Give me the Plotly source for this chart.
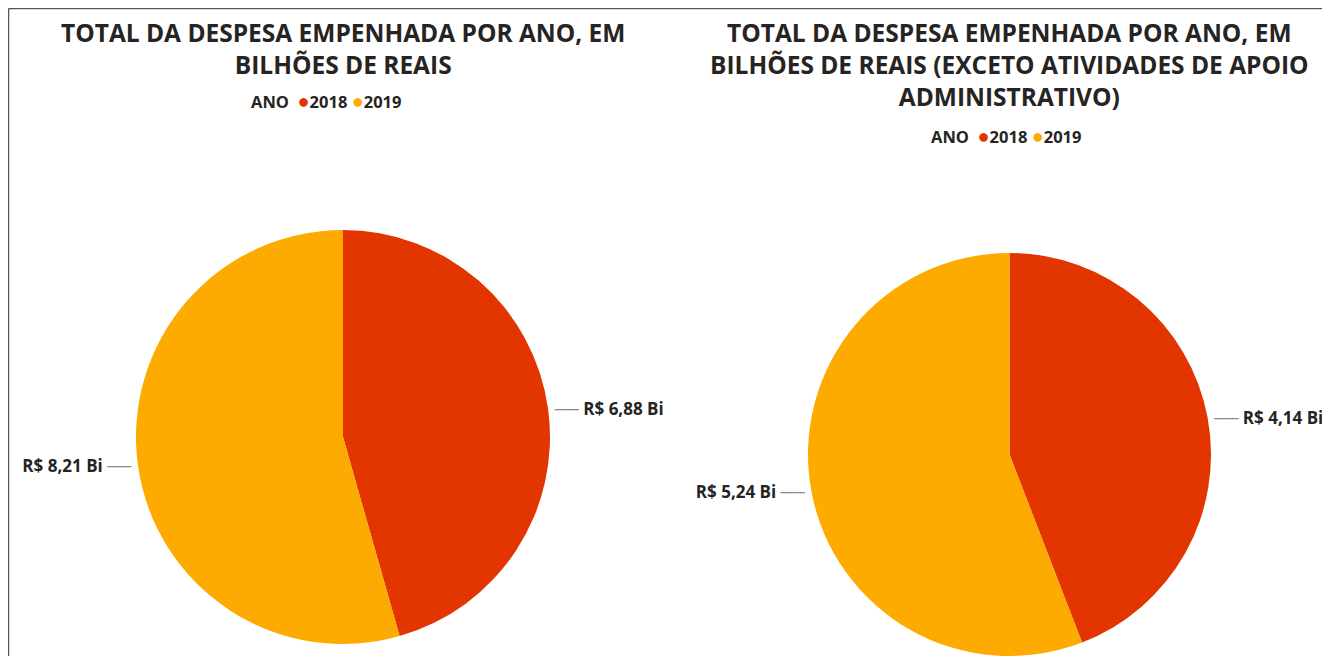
import plotly.graph_objects as go

# ---- data ----
anos = ["2018", "2019"]
total_bi = [6.88, 8.21]
exceto_apoio_bi = [4.14, 5.24]
cores = ["#E23500", "#FDAB00"]

titulo_esq = "TOTAL DA DESPESA EMPENHADA POR ANO, EM<br>BILHÕES DE REAIS"
titulo_dir = ("TOTAL DA DESPESA EMPENHADA POR ANO, EM<br>BILHÕES DE REAIS (EXCETO ATIVIDADES DE APOIO"
              "<br>ADMINISTRATIVO)")
legenda_titulo = "ANO"

W, H = 1330, 656
OFF = 8  # page body margin
FONT = "Open Sans"
TXT = "#252423"
LEADER = "<span style='color:#8a8a8a'>──</span>"

def px(x):
    return (x - OFF) / W

def py(y):
    return 1 - (y - OFF) / H

fig = go.Figure()

def add_pie(values, dom_x, dom_y):
    fig.add_trace(go.Pie(
        labels=anos,
        values=values,
        marker=dict(colors=cores, line=dict(width=0)),
        sort=False,
        direction="clockwise",
        rotation=0,
        textposition="outside",
        texttemplate=[LEADER + " R$ %{value:.2f} Bi", "R$ %{value:.2f} Bi " + LEADER],
        textfont=dict(family=FONT, size=17, color=TXT, weight="bold"),
        domain=dict(x=dom_x, y=dom_y),
        showlegend=False,
        hoverinfo="label+value",
    ))

# left pie: center (343,437) r 207
add_pie(total_bi, [px(136), px(550)], [py(644), py(230)])
# right pie: center (1010,454) r 201
add_pie(exceto_apoio_bi, [px(808), px(1211)], [max(0, py(656)), py(253)])

def legend_text():
    items = [f"<span style='color:{c};font-size:20px'>●</span><b>{a}</b>" for a, c in zip(anos, cores)]
    return f"<b>{legenda_titulo}</b>  " + " ".join(items)

annots = [
    dict(text=f"<b>{titulo_esq}</b>", x=px(343), y=py(14), xanchor="center", yanchor="top",
         font=dict(family=FONT, size=24.5, color=TXT)),
    dict(text=f"<b>{titulo_dir}</b>", x=px(1009), y=py(14), xanchor="center", yanchor="top",
         font=dict(family=FONT, size=24.5, color=TXT)),
    dict(text=legend_text(), x=px(326), y=py(101), xanchor="center", yanchor="middle",
         font=dict(family=FONT, size=16.5, color=TXT)),
    dict(text=legend_text(), x=px(1006), y=py(136), xanchor="center", yanchor="middle",
         font=dict(family=FONT, size=16.5, color=TXT)),
]
for a in annots:
    a.update(xref="paper", yref="paper", showarrow=False, align="center")

shapes = [
    dict(type="line", xref="paper", yref="paper", x0=px(8.5), x1=1, y0=py(8.5), y1=py(8.5),
         line=dict(color="#555555", width=1.5)),
    dict(type="line", xref="paper", yref="paper", x0=px(8.5), x1=px(8.5), y0=py(8.5), y1=0,
         line=dict(color="#555555", width=1.5)),
]

fig.update_layout(
    width=W, height=H,
    margin=dict(l=0, r=0, t=0, b=0),
    paper_bgcolor="white",
    plot_bgcolor="white",
    separators=",.",
    annotations=annots,
    shapes=shapes,
    font=dict(family=FONT, color=TXT),
)

fig.write_html("out.html")
